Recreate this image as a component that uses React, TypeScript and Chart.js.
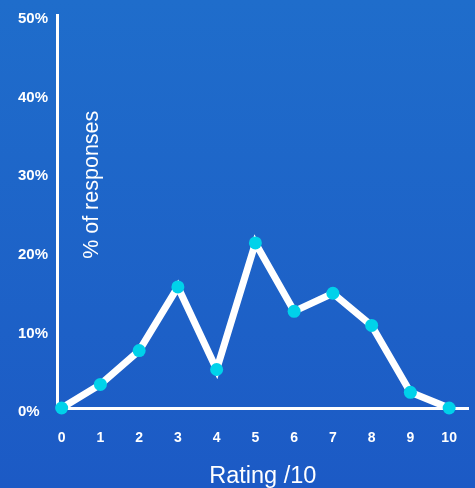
import React, { useEffect, useRef } from "react";
import { Chart, registerables } from "chart.js";

Chart.register(...registerables);

// Share of responses (%) for each rating from 0 to 10
const ratings = [0, 1, 2, 3, 4, 5, 6, 7, 8, 9, 10];
const responsePct = [0, 3, 7.3, 15.4, 4.9, 21, 12.3, 14.6, 10.5, 2, 0];
const yTicks = [0, 10, 20, 30, 40, 50];

const yTitle = "% of responses";
const xTitle = "Rating /10";

const FONT = "'Liberation Sans', Arial, Helvetica, sans-serif";

const backgroundPlugin = {
  id: "bgGradient",
  beforeDraw(chart: any) {
    const { ctx, width, height } = chart;
    const g = ctx.createLinearGradient(0, 0, 0, height);
    g.addColorStop(0, "#1f6dcb");
    g.addColorStop(1, "#1c5ac5");
    ctx.save();
    ctx.fillStyle = g;
    ctx.fillRect(0, 0, width, height);
    ctx.restore();
  },
};

// Vertical axis title drawn inside the plot area
const innerYTitlePlugin = {
  id: "innerYTitle",
  afterDatasetsDraw(chart: any) {
    const { ctx, chartArea } = chart;
    const x = chartArea.left + 35;
    const y = chartArea.top + (chartArea.bottom - chartArea.top) * 0.432;
    ctx.save();
    ctx.translate(x, y);
    ctx.rotate(-Math.PI / 2);
    ctx.fillStyle = "#ffffff";
    ctx.font = `21.5px ${FONT}`;
    ctx.textAlign = "center";
    ctx.textBaseline = "middle";
    ctx.fillText(yTitle, 0, 0);
    ctx.restore();
  },
};

export default function App() {
  const ref = useRef<HTMLCanvasElement | null>(null);

  useEffect(() => {
    document.body.style.margin = "0";
    const canvas = ref.current;
    if (!canvas) return;
    const chart = new Chart(canvas, {
      type: "line",
      data: {
        datasets: [
          {
            data: ratings.map((r, i) => ({ x: r, y: responsePct[i] })),
            borderColor: "#ffffff",
            borderWidth: 7,
            borderJoinStyle: "miter",
            pointBackgroundColor: "#00d2ea",
            pointBorderWidth: 0,
            pointRadius: 6.5,
            pointHoverRadius: 6.5,
            tension: 0,
            clip: false as any,
          },
        ],
      },
      options: {
        animation: false,
        responsive: false,
        events: [],
        layout: { padding: { top: 12, right: 5, left: 18, bottom: 0 } },
        plugins: {
          legend: { display: false },
          tooltip: { enabled: false },
        },
        scales: {
          x: {
            type: "linear",
            min: -0.12,
            max: 10.5,
            afterBuildTicks(scale: any) {
              scale.ticks = ratings.map((v) => ({ value: v }));
            },
            afterFit(scale: any) {
              scale.height = 80;
            },
            grid: { display: false },
            border: { display: true, color: "#ffffff", width: 3 },
            ticks: {
              color: "#ffffff",
              font: { family: FONT, size: 14, weight: "bold" },
              padding: 14,
              maxRotation: 0,
              autoSkip: false,
            },
            title: {
              display: true,
              text: xTitle,
              color: "#ffffff",
              font: { family: FONT, size: 23.5 },
              padding: { top: 20, bottom: -3 },
            },
          },
          y: {
            min: 0,
            max: 50,
            afterBuildTicks(scale: any) {
              scale.ticks = yTicks.map((v) => ({ value: v }));
            },
            afterFit(scale: any) {
              scale.width = 39;
            },
            grid: { display: false },
            border: { display: true, color: "#ffffff", width: 3 },
            ticks: {
              color: "#ffffff",
              font: { family: FONT, size: 15, weight: "bold" },
              padding: 6,
              labelOffset: 4,
              crossAlign: "far",
              callback: (v: any) => `${v}%`,
            },
          },
        },
      },
      plugins: [backgroundPlugin, innerYTitlePlugin],
    });
    return () => chart.destroy();
  }, []);

  return (
    <div style={{ width: 475, height: 488 }}>
      <canvas ref={ref} width={475} height={488} style={{ display: "block" }} />
    </div>
  );
}
